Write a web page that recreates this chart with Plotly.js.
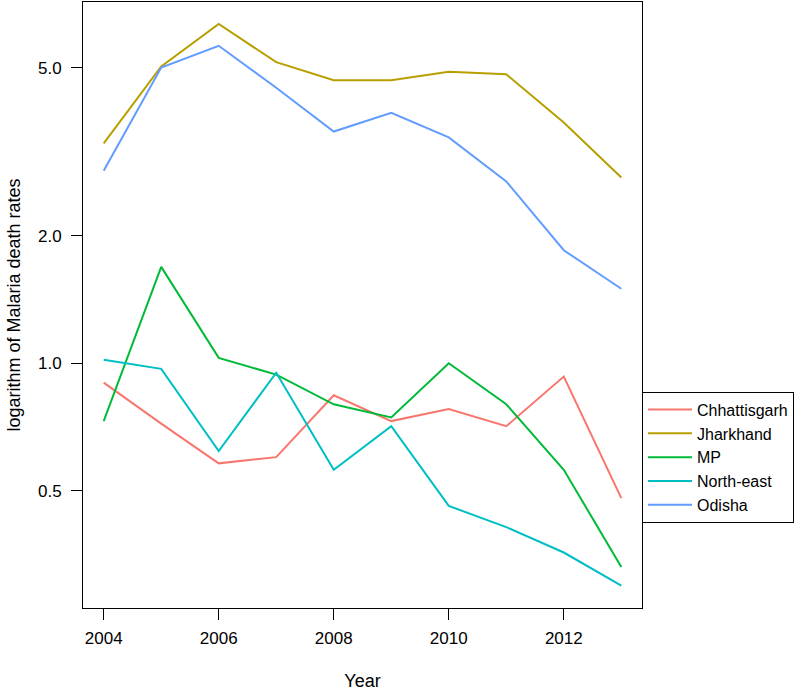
<!DOCTYPE html>
<html>
<head>
<meta charset="utf-8">
<script src="https://cdn.plot.ly/plotly-3.0.1.min.js"></script>
<style>
  html, body { margin: 0; padding: 0; background: #ffffff; }
  #chart { width: 797px; height: 691px; }
</style>
</head>
<body>
<div id="chart"></div>
<script>
// Data
var years = [2004, 2005, 2006, 2007, 2008, 2009, 2010, 2011, 2012, 2013];
var seriesNames = ["Chhattisgarh", "Jharkhand", "MP", "North-east", "Odisha"];
var chhattisgarh = [0.90, 0.72, 0.58, 0.60, 0.84, 0.73, 0.78, 0.71, 0.93, 0.48];
var jharkhand   = [3.31, 5.03, 6.34, 5.15, 4.67, 4.67, 4.89, 4.82, 3.71, 2.75];
var mp          = [0.73, 1.69, 1.03, 0.94, 0.80, 0.745, 1.00, 0.80, 0.56, 0.33];
var northEast   = [1.02, 0.97, 0.62, 0.95, 0.56, 0.71, 0.46, 0.41, 0.357, 0.298];
var odisha      = [2.85, 5.00, 5.63, 4.48, 3.53, 3.91, 3.42, 2.69, 1.85, 1.50];
var seriesColors = ["#F8766D", "#B79F00", "#00BA38", "#00BFC4", "#619CFF"];
var yTickVals = [0.5, 1, 2, 5];
var yTickText = ["0.5", "1.0", "2.0", "5.0"];
var xTickVals = [2004, 2006, 2008, 2010, 2012];

var allSeries = [chhattisgarh, jharkhand, mp, northEast, odisha];
var traces = allSeries.map(function (vals, i) {
  return {
    x: years,
    y: vals,
    type: "scatter",
    mode: "lines",
    name: seriesNames[i],
    line: { color: seriesColors[i], width: 2 }
  };
});

var fontFam = "Liberation Sans, Arial, Helvetica, sans-serif";

var layout = {
  width: 797,
  height: 691,
  paper_bgcolor: "#ffffff",
  plot_bgcolor: "#ffffff",
  font: { family: fontFam, size: 17, color: "#000000" },
  margin: { l: 83, r: 155, t: 2, b: 83, autoexpand: false },
  showlegend: true,
  legend: {
    x: 1, xanchor: "left",
    y: 0.357, yanchor: "top",
    bordercolor: "#000000", borderwidth: 1,
    bgcolor: "#ffffff",
    font: { family: fontFam, size: 16, color: "#000000" },
    tracegroupgap: 0,
    itemwidth: 44,
    entrywidth: 170,
    entrywidthmode: "pixels"
  },
  xaxis: {
    range: [2003.64, 2013.36],
    tickmode: "array",
    tickvals: xTickVals,
    ticktext: xTickVals.map(String),
    ticks: "outside", ticklen: 11, tickwidth: 1, tickcolor: "#000000",
    showline: true, linecolor: "#000000", linewidth: 1, mirror: true,
    showgrid: false, zeroline: false,
    tickfont: { family: fontFam, size: 17, color: "#000000" },
    ticklabelstandoff: 4,
    title: { text: "Year", font: { family: fontFam, size: 18, color: "#000000" }, standoff: 28 }
  },
  yaxis: {
    type: "log",
    range: [-0.5785, 0.854],
    tickmode: "array",
    tickvals: yTickVals,
    ticktext: yTickText,
    ticks: "outside", ticklen: 11, tickwidth: 1, tickcolor: "#000000",
    showline: true, linecolor: "#000000", linewidth: 1, mirror: true,
    showgrid: false, zeroline: false,
    tickfont: { family: fontFam, size: 17, color: "#000000" },
    ticklabelstandoff: 6,
    title: { text: "logarithm of Malaria death rates", font: { family: fontFam, size: 18, color: "#000000" }, standoff: 12 }
  }
};

Plotly.newPlot("chart", traces, layout, { displayModeBar: false, staticPlot: true });
</script>
</body>
</html>
